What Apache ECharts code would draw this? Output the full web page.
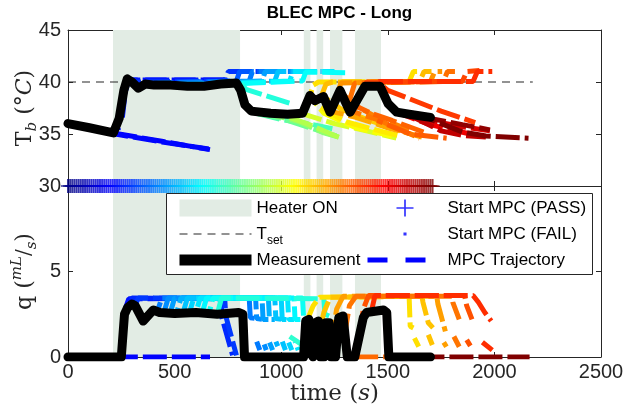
<!DOCTYPE html>
<html><head><meta charset="utf-8">
<script src="https://cdn.jsdelivr.net/npm/echarts@6/dist/echarts.min.js"></script>
<style>html,body{margin:0;padding:0;background:#fff}#c{width:635px;height:406px}</style>
</head><body><div id="c"></div>
<script>
// ---------------- DATA ----------------
const xTicks = [0, 500, 1000, 1500, 2000, 2500];
const tbTicks = [30, 35, 40, 45];
const qTicks = [0, 5, 10];
const heaterOn = [[211, 807], [1106, 1137], [1166, 1197], [1229, 1287], [1346, 1468]];
const tSet = 40;
const tSetSpan = [0, 2180];
const measTb = [[0,36.0],[100,35.6],[213,35.1],[240,36.5],[262,39.2],[278,40.3],[300,40.0],[330,39.4],[362,39.8],[404,39.7],[482,39.7],[560,39.6],[638,39.6],[716,39.8],[790,39.9],[810,39.2],[830,37.8],[860,37.2],[950,37.0],[1030,36.9],[1100,37.0],[1135,38.7],[1158,38.2],[1198,38.6],[1229,37.1],[1276,39.2],[1323,37.1],[1393,39.6],[1463,39.6],[1502,37.9],[1542,37.1],[1600,36.9],[1700,36.6]];
const measQ = [[0,0],[250,0],[265,2.5],[280,2.9],[300,3.1],[315,3.0],[353,2.1],[400,2.75],[430,2.6],[500,2.55],[600,2.6],[700,2.5],[800,2.6],[820,2.5],[828,0],[1105,0],[1115,2.1],[1130,2.2],[1140,0.2],[1150,0],[1160,2.0],[1175,2.1],[1185,0],[1200,0],[1210,2.0],[1225,2.0],[1235,0],[1255,0],[1270,2.3],[1290,2.4],[1310,0],[1345,0],[1385,2.3],[1400,2.6],[1480,2.75],[1495,2.6],[1505,0],[1700,0]];
const mpcStarts = [0,10,20,30,40,50,60,70,80,90,100,110,120,130,140,150,160,170,180,190,200,210,220,230,240,250,260,270,280,290,300,310,320,330,340,350,360,370,380,390,400,410,420,430,440,450,460,470,480,490,500,510,520,530,540,550,560,570,580,590,600,610,620,630,640,650,660,670,680,690,700,710,720,730,740,750,760,770,780,790,800,810,820,830,840,850,860,870,880,890,900,910,920,930,940,950,960,970,980,990,1000,1010,1020,1030,1040,1050,1060,1070,1080,1090,1100,1110,1120,1130,1140,1150,1160,1170,1180,1190,1200,1210,1220,1230,1240,1250,1260,1270,1280,1290,1300,1310,1320,1330,1340,1350,1360,1370,1380,1390,1400,1410,1420,1430,1440,1450,1460,1470,1480,1490,1500,1510,1520,1530,1540,1550,1560,1570,1580,1590,1600,1610,1620,1630,1640,1650,1660,1670,1680,1690,1700,1710];
const mpcFail = [];
// MPC predicted T_b trajectories: run start time, path [t, Tb]
const trajTbStart = [212,222,235,255,300,360,420,480,540,600,650,700,760,820,880,940,1000,1060,1100,1120,1160,1180,1220,1250,1280,1300,1310,1330,1340,1380,1400,1420,1520,1560,1600,1680,1710];
const trajTbPath = [
 [[212,35.1],[440,34.3],[666,33.5]],
 [[222,35.0],[450,34.2],[660,33.55]],
 [[235,35.4],[262,38.6],[285,40.2],[745,40.2]],
 [[255,36.6],[272,39.6],[292,40.2],[750,40.2]],
 [[300,40.0],[735,40.1],[752,41.0],[950,41.0]],
 [[360,39.9],[790,40.1],[805,41.0],[1010,41.0]],
 [[420,39.9],[850,40.1],[865,41.0],[1070,41.0]],
 [[480,39.8],[910,40.1],[925,41.0],[1130,41.0]],
 [[540,39.7],[970,40.1],[985,41.0],[1190,41.0]],
 [[600,39.7],[1040,40.1],[1055,41.0],[1250,41.0]],
 [[650,39.7],[1100,40.1],[1115,40.95],[1300,40.9]],
 [[700,39.8],[808,39.9],[835,39.3],[1050,37.9]],
 [[830,37.6],[880,37.0],[1000,36.4],[1150,35.9],[1240,35.5]],
 [[880,37.0],[1000,36.5],[1150,35.5],[1260,34.8]],
 [[950,36.9],[1080,36.2],[1200,35.1],[1270,34.7]],
 [[1000,36.9],[1120,36.0],[1280,34.6]],
 [[1090,37.0],[1250,36.0],[1400,35.3],[1540,34.6]],
 [[1135,38.6],[1200,37.0],[1350,35.6],[1520,34.8]],
 [[1166,37.8],[1300,36.2],[1480,35.2],[1560,34.8]],
 [[1120,37.6],[1150,39.7],[1175,40.0],[1600,40.05],[1620,41.0],[1660,41.0]],
 [[1198,38.6],[1280,37.4],[1400,36.4],[1560,35.3]],
 [[1180,38.2],[1210,39.8],[1240,40.0],[1650,40.05],[1670,41.0],[1705,41.0]],
 [[1229,37.2],[1350,36.6],[1500,35.6],[1660,34.7]],
 [[1250,38.0],[1280,39.9],[1700,40.05],[1720,41.0],[1755,41.0]],
 [[1290,38.8],[1360,37.6],[1450,36.6],[1600,35.4]],
 [[1330,37.2],[1463,36.3],[1650,34.6]],
 [[1310,37.5],[1345,39.9],[1760,40.05],[1780,41.0],[1815,41.0]],
 [[1340,37.8],[1420,37.0],[1520,36.3],[1680,35.1]],
 [[1450,36.3],[1604,35.0],[1776,34.6]],
 [[1380,39.3],[1400,40.0],[1850,40.05],[1870,41.0],[1930,41.1]],
 [[1400,39.7],[1470,39.7],[1500,39.2],[1600,38.4],[1750,37.2],[1910,36.1]],
 [[1430,39.7],[1460,40.05],[1900,40.05],[1920,41.0],[1990,41.0]],
 [[1540,37.1],[1698,35.9],[1886,35.0]],
 [[1560,37.0],[1700,36.3],[1850,35.7],[1979,35.3]],
 [[1600,36.8],[1750,35.3],[1855,34.85],[1960,34.7]],
 [[1698,36.5],[1850,35.9],[1979,35.4]],
 [[1700,36.4],[1850,35.2],[1960,34.8],[2160,34.6]]
];
// MPC predicted flow trajectories: run start time, path [t, q] (null = gap)
const trajQStart = [215,240,280,310,420,450,480,510,540,570,600,630,660,700,720,1320,1120,1170,1230,1300,1360,1420,1710];
const trajQPath = [
 [[215,0],[666,0]],
 [[248,0.1],[268,2.8],[285,3.4],[700,3.45]],
 [[280,3.0],[300,3.45],[718,3.4],[722,2.3],[772,0.1]],
 [[310,2.9],[330,3.45],[735,3.45],[740,2.4],[790,0.1]],
 [[420,2.7],[440,3.45],[850,3.45],[855,2.3],[880,2.25],[882,null],[885,0.9],[900,0.4]],
 [[450,2.6],[470,3.45],[880,3.45],[885,2.25],[910,2.2],[912,null],[915,0.9],[930,0.4]],
 [[480,2.6],[500,3.45],[910,3.45],[915,2.2],[940,2.2],[942,null],[945,0.85],[960,0.4]],
 [[510,2.6],[530,3.45],[940,3.45],[945,2.2],[970,2.2],[972,null],[975,0.9],[990,0.45]],
 [[540,2.6],[560,3.45],[970,3.45],[975,2.25],[1000,2.2],[1002,null],[1005,0.9],[1020,0.4]],
 [[570,2.6],[590,3.45],[1000,3.45],[1005,2.2],[1030,2.2],[1032,null],[1035,0.85],[1050,0.4]],
 [[600,2.6],[620,3.45],[1030,3.45],[1035,2.2],[1060,2.2],[1062,null],[1065,0.9],[1080,0.4]],
 [[630,2.6],[650,3.45],[1060,3.45],[1065,2.2],[1090,2.2],[1092,null],[1095,0.9],[1110,0.45]],
 [[660,2.5],[680,3.45],[1100,3.45],[1105,2.3],[1130,2.2],[1132,null],[1135,1.1],[1150,0.6]],
 [[700,2.5],[720,3.45],[1200,3.4],[1205,2.5],[1225,2.4]],
 [[1040,1.2],[1100,0.7],[1160,0.5]],
 [[1300,0],[1520,0]],
 [[1120,2.1],[1150,3.0],[1180,3.5],[1600,3.55],[1605,1.8],[1620,1.7],[1622,null],[1625,1.1],[1645,0.6]],
 [[1170,1.0],[1200,2.6],[1230,3.5],[1660,3.55],[1665,3.2],[1690,2.0],[1712,1.7],[1714,null],[1690,1.3],[1712,0.6]],
 [[1230,0.5],[1260,2.8],[1290,3.55],[1730,3.55],[1735,3.1],[1770,1.5],[1772,null],[1750,1.1],[1775,0.6]],
 [[1300,1.5],[1320,3.0],[1350,3.55],[1800,3.55],[1805,3.2],[1835,2.2],[1837,null],[1810,1.2],[1835,0.6]],
 [[1360,0.6],[1385,2.8],[1410,3.6],[1860,3.6],[1870,3.0],[1895,2.2],[1897,null],[1870,1.0],[1895,0.5]],
 [[1420,2.5],[1440,3.6],[1900,3.6],[1925,3.2],[1955,2.6],[1985,2.1],[1987,null],[1940,0.9],[1990,0.4]],
 [[1700,0],[2165,0]]
];

// ---------------- STYLE / BUILD ----------------
const SANS = 'Liberation Sans, Arial, Helvetica, sans-serif';
const SERIF = 'DejaVu Serif, Liberation Serif, serif';
const INK = '#262626';
const HEAT = '#e2ece4';
const colorMax = Math.max(...mpcStarts);
function jet(t) {
  const v = Math.min(1, Math.max(0, t / colorMax));
  const c = x => Math.round(255 * Math.min(1, Math.max(0, 1.5 - Math.abs(4 * v - x))));
  return 'rgb(' + c(3) + ',' + c(2) + ',' + c(1) + ')';
}
const plusPath = 'path://M8.6,0h2.8v20h-2.8zM0,8.8h20v2.4h-20z';
const plusLegend = 'path://M9,0h2v20h-2zM0,9h20v2h-20z';
const dotPath = 'path://M0,0h0.01v0.01h-0.01zM19.99,19.99h0.01v0.01h-0.01zM8.2,8.2h3.6v3.6h-3.6z';
const TRAJ_DASH = [24, 5];

function axisBase(extra) {
  return Object.assign({
    type: 'value',
    axisLine: {show: true, onZero: false, lineStyle: {color: INK, width: 1}},
    axisTick: {show: true, inside: true, length: 5, lineStyle: {color: INK}},
    splitLine: {show: false},
    axisLabel: {show: false}
  }, extra);
}
const tickLabel = {show: true, fontFamily: SANS, fontSize: 20, color: INK, formatter: v => String(v)};
const xRange = {min: xTicks[0], max: xTicks[xTicks.length-1], interval: xTicks[1]-xTicks[0]};
const tbRange = {min: tbTicks[0], max: tbTicks[tbTicks.length-1], interval: tbTicks[1]-tbTicks[0]};
const qRange = {min: qTicks[0], max: qTicks[qTicks.length-1], interval: qTicks[1]-qTicks[0]};

const xAxes = [
  axisBase(Object.assign({gridIndex: 0, position: 'bottom'}, xRange)),
  axisBase(Object.assign({gridIndex: 0, position: 'top'}, xRange)),
  axisBase(Object.assign({gridIndex: 1, position: 'bottom',
    axisLabel: Object.assign({}, tickLabel, {margin: 5}),
    name: '{a|time (}{i|s}{a|)}', nameLocation: 'middle', nameGap: 19,
    nameTextStyle: {rich: {a: {fontFamily: SERIF, fontSize: 23, color: INK}, i: {fontFamily: SERIF, fontSize: 23, fontStyle: 'italic', color: INK}}}}, xRange)),
  axisBase(Object.assign({gridIndex: 1, position: 'top'}, xRange))
];
const yAxes = [
  axisBase(Object.assign({gridIndex: 0, position: 'left',
    axisLabel: Object.assign({}, tickLabel, {margin: 7}),
    name: '{a|T}{b|b}{a| (°}{d|C}{a|)}', nameLocation: 'middle', nameGap: 28, nameMoveOverlap: false,
    nameTextStyle: {rich: {
      a: {fontFamily: SERIF, fontSize: 22, lineHeight: 30, color: INK},
      b: {fontFamily: SERIF, fontSize: 15, fontStyle: 'italic', lineHeight: 11, verticalAlign: 'bottom', color: INK},
      d: {fontFamily: SERIF, fontSize: 22, fontStyle: 'italic', lineHeight: 30, color: INK}}}}, tbRange)),
  axisBase(Object.assign({gridIndex: 0, position: 'right'}, tbRange)),
  axisBase(Object.assign({gridIndex: 1, position: 'left',
    axisLabel: Object.assign({}, tickLabel, {margin: 7, formatter: v => v === qTicks[qTicks.length-1] ? '' : String(v)}),
    name: '{a|q (}{e|mL}{f|/}{g|s}{a|)}', nameLocation: 'middle', nameGap: 28, nameMoveOverlap: false,
    nameTextStyle: {rich: {
      a: {fontFamily: SERIF, fontSize: 22, lineHeight: 30, color: INK},
      e: {fontFamily: SERIF, fontSize: 15, fontStyle: 'italic', lineHeight: 12, verticalAlign: 'top', color: INK},
      f: {fontFamily: SERIF, fontSize: 20, lineHeight: 30, color: INK},
      g: {fontFamily: SERIF, fontSize: 15, fontStyle: 'italic', lineHeight: 12, verticalAlign: 'bottom', color: INK}}}}, qRange)),
  axisBase(Object.assign({gridIndex: 1, position: 'right'}, qRange))
];

const series = [];
// heater shading
[[0, 0, tbRange], [2, 2, qRange]].forEach(([xi, yi, r]) => {
  series.push({type: 'line', name: 'Heater ON', xAxisIndex: xi, yAxisIndex: yi, data: [], silent: true,
    itemStyle: {color: HEAT}, lineStyle: {color: HEAT}, z: 1,
    markArea: {silent: true, itemStyle: {color: HEAT},
      data: heaterOn.map(([a, b]) => [{xAxis: a, yAxis: r.min}, {xAxis: b, yAxis: r.max}])}});
});
series.push({type: 'line', name: 'T_set', xAxisIndex: 0, yAxisIndex: 0, symbol: 'none', silent: true,
  data: tSetSpan.map(t => [t, tSet]), lineStyle: {color: INK, width: 1.2, type: [8, 6]}, z: 2});
series.push({type: 'line', name: 'MPC Trajectory', xAxisIndex: 0, yAxisIndex: 0, data: [], symbol: 'none',
  itemStyle: {color: '#0000ff'}, lineStyle: {color: '#0000ff', width: 5, type: [20, 18]}});
trajTbPath.forEach((p, i) => {
  series.push({type: 'line', name: 'tb' + i, xAxisIndex: 0, yAxisIndex: 0, data: p, symbol: 'none', silent: true,
    connectNulls: false, lineStyle: {color: jet(trajTbStart[i]), width: 5, type: TRAJ_DASH, dashOffset: (i * 11) % 29}, z: 3});
});
trajQPath.forEach((p, i) => {
  series.push({type: 'line', name: 'q' + i, xAxisIndex: 2, yAxisIndex: 2, data: p, symbol: 'none', silent: true,
    connectNulls: false, lineStyle: {color: jet(trajQStart[i]), width: 5, type: TRAJ_DASH, dashOffset: (i * 11) % 29}, z: 3});
});
series.push({type: 'line', name: 'Measurement', xAxisIndex: 0, yAxisIndex: 0, data: measTb, symbol: 'none', silent: true,
  lineStyle: {color: '#000', width: 9, cap: 'round', join: 'round'}, itemStyle: {color: '#000'}, z: 4});
series.push({type: 'line', name: 'Measurement', xAxisIndex: 2, yAxisIndex: 2, data: measQ, symbol: 'none', silent: true,
  lineStyle: {color: '#000', width: 9, cap: 'round', join: 'round'}, itemStyle: {color: '#000'}, z: 4});
series.push({type: 'scatter', name: 'Start MPC (PASS)', xAxisIndex: 0, yAxisIndex: 0, symbol: plusPath, symbolSize: 14,
  silent: true, clip: false, itemStyle: {color: '#0000ff'},
  data: mpcStarts.map(t => ({value: [t, tbTicks[0]], itemStyle: {color: jet(t)}})), z: 5});
series.push({type: 'scatter', name: 'Start MPC (FAIL)', xAxisIndex: 0, yAxisIndex: 0, symbol: 'circle', symbolSize: 4,
  silent: true, itemStyle: {color: '#0000ff'}, data: mpcFail.map(t => [t, tbTicks[0]]), z: 5});

const noSym = {color: 'rgba(0,0,0,0)', borderWidth: 0, borderColor: 'rgba(0,0,0,0)'};
const legendText = {fontFamily: SANS, fontSize: 17, lineHeight: 26, color: '#000',
  rich: {m: {fontFamily: SANS, fontSize: 17, lineHeight: 26, color: '#000'},
         s: {fontFamily: SANS, fontSize: 12, lineHeight: 9, verticalAlign: 'bottom', color: '#000'}}};

const option = {
  animation: false,
  backgroundColor: '#fff',
  title: {text: 'BLEC MPC - Long', left: 334.5, textAlign: 'center', top: 0,
    textStyle: {fontFamily: SANS, fontSize: 17, fontWeight: 'bold', color: '#000'}},
  grid: [
    {left: 68, right: 34, top: 30, height: 156, containLabel: false, outerBoundsMode: 'none'},
    {left: 68, right: 34, top: 186, height: 171, containLabel: false, outerBoundsMode: 'none'}
  ],
  xAxis: xAxes,
  yAxis: yAxes,
  graphic: [{type: 'rect', left: 166, top: 193, z: 15, silent: true,
    shape: {width: 426, height: 81}, style: {fill: '#fff', stroke: INK, lineWidth: 1}}],
  legend: [
    {left: 174, top: 195, orient: 'vertical', itemWidth: 72, itemHeight: 17, itemGap: 0, padding: 0, z: 20,
     selectedMode: false, textStyle: legendText,
     formatter: n => n === 'T_set' ? '{m|T}{s|set}' : n,
     data: [
       {name: 'Heater ON', icon: 'rect', itemStyle: {color: HEAT, borderWidth: 0}},
       {name: 'T_set', itemStyle: noSym, lineStyle: {color: INK, width: 1.2, type: [8, 6], cap: 'butt'}},
       {name: 'Measurement', itemStyle: noSym, lineStyle: {color: '#000', width: 11, cap: 'butt'}}
     ]},
    {left: 365, top: 195, orient: 'vertical', itemWidth: 75, itemHeight: 17, itemGap: 0, padding: 0, z: 20,
     selectedMode: false, textStyle: legendText,
     data: [
       {name: 'Start MPC (PASS)', icon: plusLegend, itemStyle: {color: '#0000ff', borderWidth: 0}},
       {name: 'Start MPC (FAIL)', icon: dotPath, itemStyle: {color: '#0000ff', borderWidth: 0}},
       {name: 'MPC Trajectory', itemStyle: noSym, lineStyle: {color: '#0000ff', width: 5, type: [20, 18], cap: 'butt'}}
     ]}
  ],
  series: series
};
const chart = echarts.init(document.getElementById('c'), null, {renderer: 'canvas'});
chart.setOption(option);
</script></body></html>
